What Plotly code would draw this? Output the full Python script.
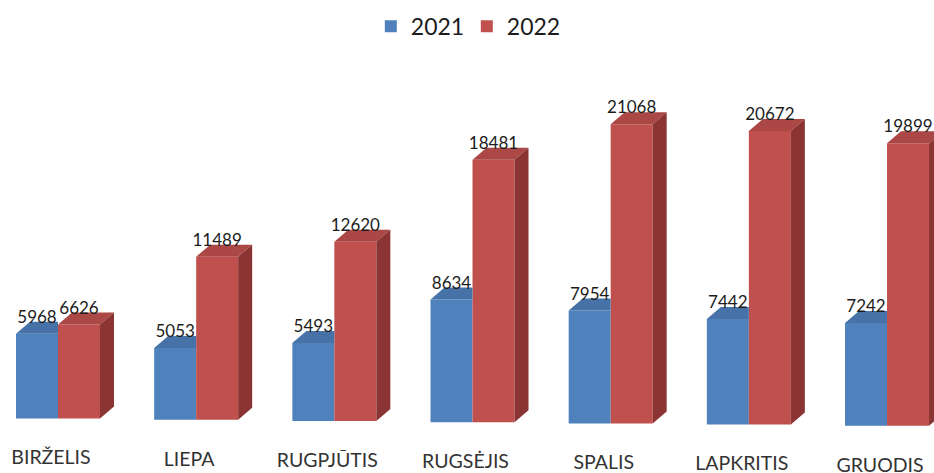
import plotly.graph_objects as go

months = ["BIRŽELIS", "LIEPA", "RUGPJŪTIS", "RUGSĖJIS", "SPALIS", "LAPKRITIS", "GRUODIS"]
values_2021 = [5968, 5053, 5493, 8634, 7954, 7442, 7242]
values_2022 = [6626, 11489, 12620, 18481, 21068, 20672, 19899]

W, H = 934, 473
PX_PER_UNIT = 0.0142
PX_PER_CAT = 138.17
FIRST_CENTER_PX = 58.0
BASE_PX = 418.6
BAR_PX = 42.0
DEPTH_X_PX = 14.0
DEPTH_Y_PX = 12.0
TILT_PX = 1.2
LABEL_DROP_PX = 41.0
LABEL_SHIFT_PX = -7.0
VALUE_LIFT_PX = 15.0

BLUE, BLUE_TOP = "#4F81BD", "#4672A8"
RED, RED_TOP, RED_SIDE = "#C0504D", "#AB4745", "#8A3533"
FONT = "Lato"
INK = "#1c1c1c"

bw = BAR_PX / PX_PER_CAT
dx = DEPTH_X_PX / PX_PER_CAT
dy = DEPTH_Y_PX / PX_PER_UNIT
idx = list(range(len(months)))
base = [-TILT_PX * i / PX_PER_UNIT for i in idx]


def poly(points_per_bar):
    xs, ys = [], []
    for pts in points_per_bar:
        for x, y in pts + [pts[0]]:
            xs.append(x)
            ys.append(y)
        xs.append(None)
        ys.append(None)
    return xs, ys


def face(points_per_bar, color):
    xs, ys = poly(points_per_bar)
    return go.Scatter(x=xs, y=ys, mode="lines", fill="toself", fillcolor=color,
                      line=dict(width=0, color=color), hoverinfo="skip", showlegend=False)


fig = go.Figure()
fig.add_bar(name="2021", x=idx, y=values_2021, base=base, marker=dict(color=BLUE, line=dict(width=0)))
fig.add_bar(name="2022", x=idx, y=values_2022, base=base, marker=dict(color=RED, line=dict(width=0)))

blue_top = []
red_top = []
red_side = []
for i in idx:
    t1 = base[i] + values_2021[i]
    t2 = base[i] + values_2022[i]
    blue_top.append([(i - bw, t1), (i - bw + dx, t1 + dy), (i, t1 + dy), (i, t1)])
    red_top.append([(i, t2), (i + dx, t2 + dy), (i + bw + dx, t2 + dy), (i + bw, t2)])
    red_side.append([(i + bw, t2), (i + bw + dx, t2 + dy), (i + bw + dx, base[i] + dy), (i + bw, base[i])])
fig.add_trace(face(blue_top, BLUE_TOP))
fig.add_trace(face(red_top, RED_TOP))
fig.add_trace(face(red_side, RED_SIDE))

lift = VALUE_LIFT_PX / PX_PER_UNIT
fig.add_trace(go.Scatter(
    x=[i - bw / 2 for i in idx] + [i + bw / 2 for i in idx],
    y=[base[i] + values_2021[i] + lift for i in idx] + [base[i] + values_2022[i] + lift for i in idx],
    text=[str(v) for v in values_2021 + values_2022],
    mode="text", textposition="middle center",
    textfont=dict(family=FONT, size=17, color=INK),
    hoverinfo="skip", showlegend=False))

fig.add_trace(go.Scatter(
    x=[i + LABEL_SHIFT_PX / PX_PER_CAT for i in idx],
    y=[base[i] - LABEL_DROP_PX / PX_PER_UNIT for i in idx],
    text=months, mode="text", textposition="middle center", cliponaxis=False,
    textfont=dict(family=FONT, size=19.5, color="#333333"),
    hoverinfo="skip", showlegend=False))

fig.update_layout(
    width=W, height=H, margin=dict(l=0, r=0, t=0, b=0),
    paper_bgcolor="white", plot_bgcolor="white",
    barmode="group", bargap=1 - 2 * bw, bargroupgap=0,
    font=dict(family=FONT, color=INK),
    showlegend=True,
    legend=dict(orientation="h", x=0.4998, xanchor="center", y=0.99, yanchor="top",
                font=dict(family=FONT, size=23, color=INK), traceorder="normal",
                entrywidth=51, entrywidthmode="pixels",
                bgcolor="rgba(0,0,0,0)"),
    xaxis=dict(visible=False, fixedrange=True,
               range=[-FIRST_CENTER_PX / PX_PER_CAT, (W - FIRST_CENTER_PX) / PX_PER_CAT]),
    yaxis=dict(visible=False, fixedrange=True,
               range=[-(H - BASE_PX) / PX_PER_UNIT, BASE_PX / PX_PER_UNIT]),
)
fig.write_html("out.html", config={"displayModeBar": False},
               post_script="document.body.style.margin='0';document.documentElement.style.overflow='hidden';")
